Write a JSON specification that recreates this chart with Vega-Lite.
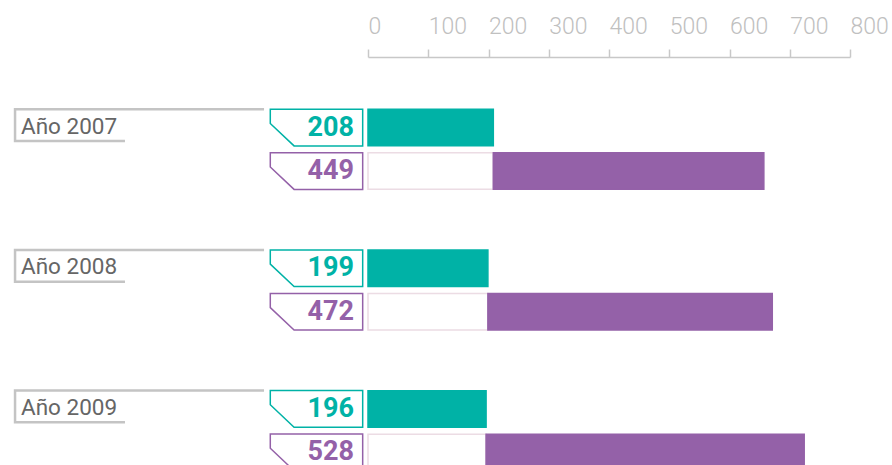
{
  "$schema": "https://vega.github.io/schema/vega-lite/v6.json",
  "autosize": "none",
  "padding": {"left": 368, "top": 57, "right": 42, "bottom": 0},
  "width": 482,
  "height": 466,
  "background": "white",
  "config": {"view": {"stroke": null}},
  "data": {
    "values": [
      {"year": "2007", "row": "a", "segment": "teal", "value": 208, "label": "Año 2007"},
      {"year": "2007", "row": "b", "segment": "base", "value": 208},
      {"year": "2007", "row": "b", "segment": "purple", "value": 449},
      {"year": "2008", "row": "a", "segment": "teal", "value": 199, "label": "Año 2008"},
      {"year": "2008", "row": "b", "segment": "base", "value": 199},
      {"year": "2008", "row": "b", "segment": "purple", "value": 472},
      {"year": "2009", "row": "a", "segment": "teal", "value": 196, "label": "Año 2009"},
      {"year": "2009", "row": "b", "segment": "base", "value": 196},
      {"year": "2009", "row": "b", "segment": "purple", "value": 528}
    ]
  },
  "transform": [
    {"stack": "value", "groupby": ["year", "row"], "sort": [{"field": "segment", "order": "ascending"}], "as": ["x0", "x1"]}
  ],
  "encoding": {
    "y": {"field": "year", "type": "nominal", "axis": null,
          "scale": {"paddingInner": 0.431, "paddingOuter": 0.372}},
    "yOffset": {"field": "row", "type": "nominal",
                "scale": {"paddingInner": 0.161, "paddingOuter": 0}}
  },
  "layer": [
    {
      "mark": {"type": "bar", "strokeWidth": 1.5},
      "encoding": {
        "x": {"field": "x0", "type": "quantitative",
              "scale": {"domain": [0, 800], "nice": false, "zero": true},
              "axis": {"orient": "top", "values": [0, 100, 200, 300, 400, 500, 600, 700, 800],
                       "title": null, "grid": false,
                       "domainColor": "#c8c8c8", "domainWidth": 1.5,
                       "tickColor": "#c8c8c8", "tickWidth": 1.5, "tickSize": 8,
                       "labelFont": "Roboto", "labelFontWeight": 300, "labelFontSize": 23,
                       "labelColor": "#c0c0c0", "labelAlign": "left", "labelPadding": 11,
                       "labelFlush": false, "labelOverlap": false, "labelBound": false}},
        "x2": {"field": "x1"},
        "fill": {"field": "segment", "type": "nominal", "legend": null,
                 "scale": {"domain": ["teal", "base", "purple"], "range": ["#00b2a6", "#ffffff", "#9461a8"]}},
        "stroke": {"field": "segment", "type": "nominal", "legend": null,
                   "scale": {"domain": ["teal", "base", "purple"], "range": ["#00b2a6", "#ecdce4", "#9461a8"]}}
      }
    },
    {
      "transform": [{"filter": "datum.segment != 'base'"}],
      "mark": {"type": "point", "shape": "M-2.115,-0.396 L-0.115,-0.396 L-0.115,0.396 L-1.6,0.396 L-2.115,-0.09 Z",
               "size": 8538, "fill": "#ffffff", "filled": false, "strokeWidth": 1.5, "opacity": 1},
      "encoding": {
        "x": {"datum": 0, "type": "quantitative"},
        "stroke": {"field": "segment", "type": "nominal", "legend": null}
      }
    },
    {
      "transform": [{"filter": "datum.segment != 'base'"}],
      "mark": {"type": "text", "align": "right", "baseline": "alphabetic", "dx": -14, "dy": 8,
               "font": "Roboto", "fontWeight": "bold", "fontSize": 27},
      "encoding": {
        "x": {"datum": 0, "type": "quantitative"},
        "text": {"field": "value", "type": "quantitative"},
        "fill": {"field": "segment", "type": "nominal", "legend": null}
      }
    },
    {
      "transform": [{"filter": "datum.segment == 'teal'"}],
      "mark": {"type": "point", "shape": "M-0.835,-0.147 L-2.835,-0.147 L-2.835,0.108 L-1.952,0.108",
               "size": 62001, "filled": false, "fill": null, "stroke": "#c4c4c4", "strokeWidth": 2.5, "opacity": 1},
      "encoding": {
        "x": {"datum": 0, "type": "quantitative"}
      }
    },
    {
      "transform": [{"filter": "datum.segment == 'teal'"}],
      "mark": {"type": "text", "align": "left", "baseline": "alphabetic", "dx": -347, "dy": 6,
               "font": "Roboto", "fontSize": 22.5, "color": "#666666"},
      "encoding": {
        "x": {"datum": 0, "type": "quantitative"},
        "text": {"field": "label", "type": "nominal"}
      }
    }
  ]
}
